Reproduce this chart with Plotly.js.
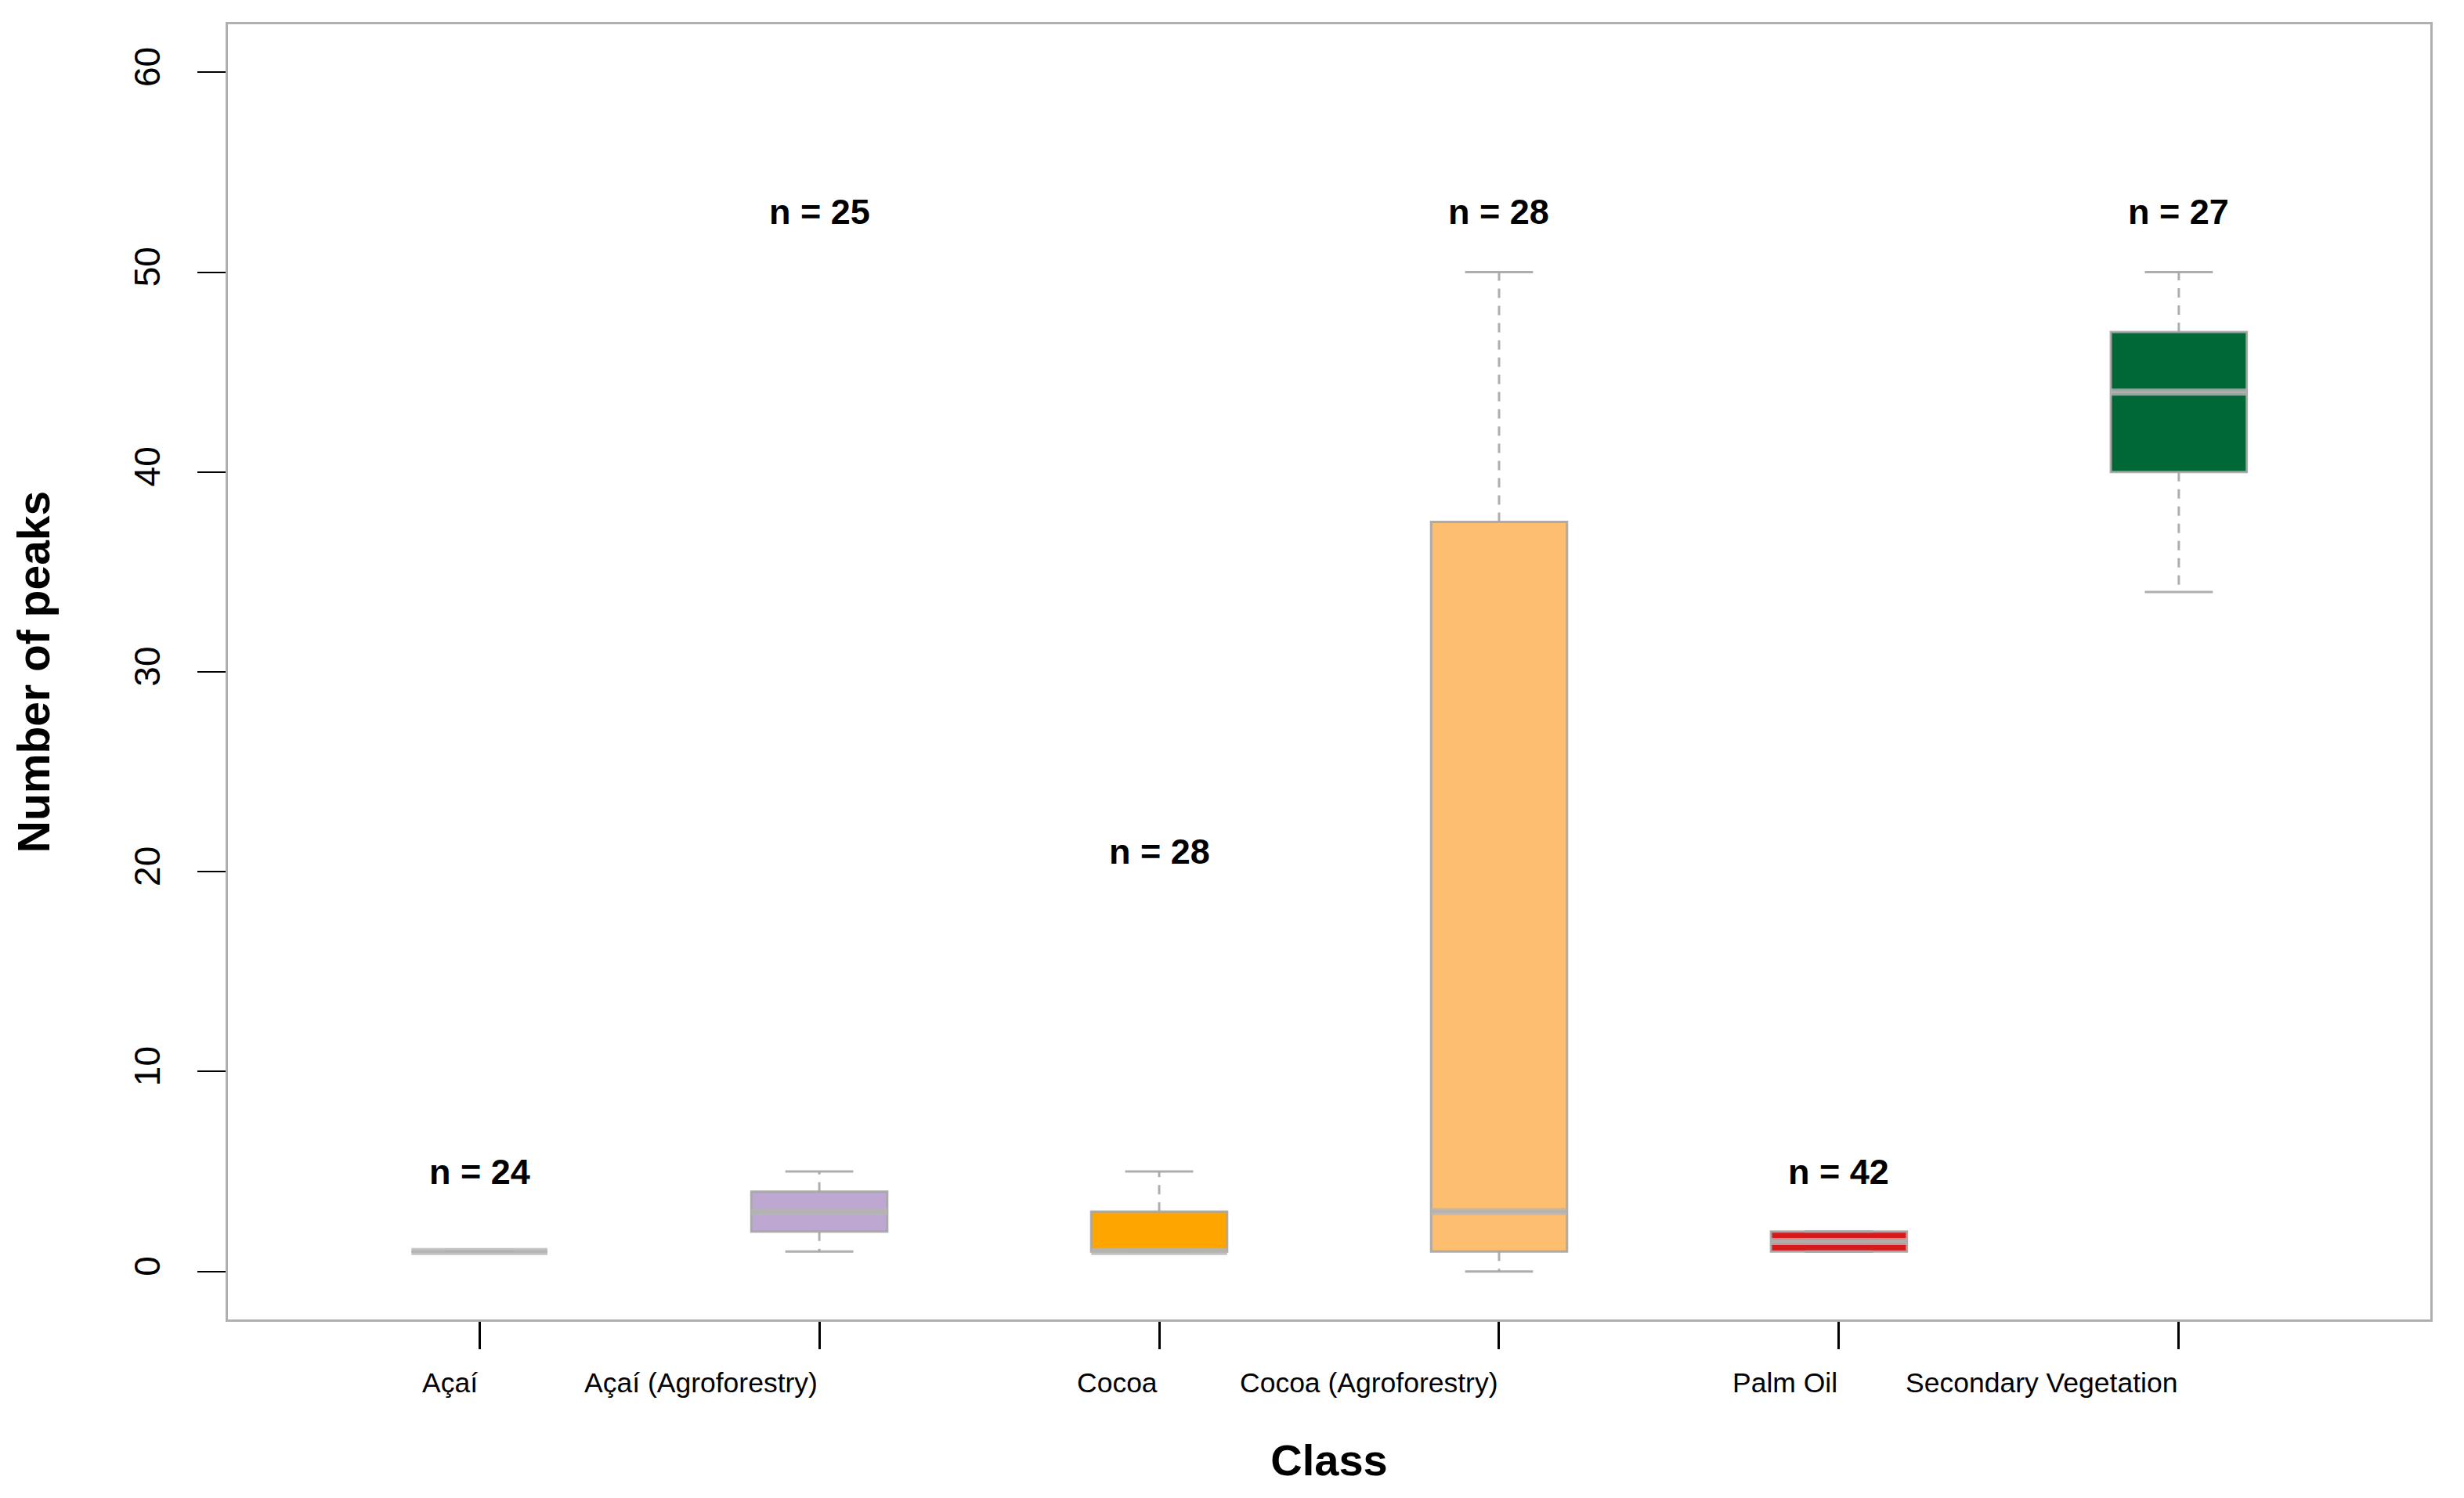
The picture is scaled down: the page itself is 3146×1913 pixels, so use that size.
<!DOCTYPE html>
<html>
<head>
<meta charset="utf-8">
<script src="https://cdn.plot.ly/plotly-3.0.1.min.js"></script>
<style>
  html, body { margin: 0; padding: 0; background: #ffffff; }
  #chart { width: 3146px; height: 1913px; }
</style>
</head>
<body>
<div id="chart"></div>
<script>
// ---- data ----
const categories = ["Açaí", "Açaí (Agroforestry)", "Cocoa", "Cocoa (Agroforestry)", "Palm Oil", "Secondary Vegetation"];
const lowerWhisker = [1, 1, 1, 0, 1, 34];
const q1Values     = [1, 2, 1, 1, 1, 40];
const medianValues = [1, 3, 1, 3, 1.5, 44];
const q3Values     = [1, 4, 3, 37.5, 2, 47];
const upperWhisker = [1, 5, 5, 50, 2, 50];
const nCounts      = [24, 25, 28, 28, 42, 27];
const nLabelY      = [5, 53, 21, 53, 5, 53];
const yTickValues  = [0, 10, 20, 30, 40, 50, 60];

// ---- styles ----
const fillColors = ["#BEBEBE", "#BEA8D2", "#FFA500", "#FDBF6F", "#D7191C", "#006837"];
const FONT = "Liberation Sans, Arial, Helvetica, sans-serif";
const grayLine = "rgba(165,165,165,0.9)";
const medianColor = "rgba(180,180,180,0.82)";
const boxWidth = 0.4;
const capHalf = 0.1;

const positions = categories.map((c, i) => i + 1);
const traces = [];

// box bodies
categories.forEach((cat, i) => {
  traces.push({
    type: "box",
    name: cat,
    x: [positions[i]],
    q1: [q1Values[i]],
    median: [medianValues[i]],
    q3: [q3Values[i]],
    lowerfence: [q1Values[i]],
    upperfence: [q3Values[i]],
    width: boxWidth,
    fillcolor: fillColors[i],
    line: { color: grayLine, width: 3 },
    boxpoints: false,
    whiskerwidth: 0,
    showlegend: false,
    hoverinfo: "skip"
  });
});

// dashed whiskers
const wx = [], wy = [];
categories.forEach((cat, i) => {
  wx.push(positions[i], positions[i], null, positions[i], positions[i], null);
  wy.push(q3Values[i], upperWhisker[i], null, q1Values[i], lowerWhisker[i], null);
});
traces.push({
  type: "scatter", mode: "lines", x: wx, y: wy,
  line: { color: grayLine, width: 3, dash: "12px,10px" },
  showlegend: false, hoverinfo: "skip"
});

// whisker caps
const cx = [], cy = [];
categories.forEach((cat, i) => {
  cx.push(positions[i] - capHalf, positions[i] + capHalf, null, positions[i] - capHalf, positions[i] + capHalf, null);
  cy.push(upperWhisker[i], upperWhisker[i], null, lowerWhisker[i], lowerWhisker[i], null);
});
traces.push({
  type: "scatter", mode: "lines", x: cx, y: cy,
  line: { color: grayLine, width: 3 },
  showlegend: false, hoverinfo: "skip"
});

// thick median lines
const mx = [], my = [];
categories.forEach((cat, i) => {
  mx.push(positions[i] - boxWidth / 2, positions[i] + boxWidth / 2, null);
  my.push(medianValues[i], medianValues[i], null);
});
traces.push({
  type: "scatter", mode: "lines", x: mx, y: my,
  line: { color: medianColor, width: 9 },
  showlegend: false, hoverinfo: "skip"
});

// annotations: n = labels and right-aligned category labels
const annotations = [];
categories.forEach((cat, i) => {
  annotations.push({
    x: positions[i], y: nLabelY[i], xref: "x", yref: "y",
    text: "<b>n = " + nCounts[i] + "</b>",
    showarrow: false, xanchor: "center", yanchor: "middle",
    font: { family: FONT, size: 45, color: "#000000" }
  });
  annotations.push({
    x: positions[i], y: 0, xref: "x", yref: "paper",
    text: cat, showarrow: false, xanchor: "right", yanchor: "middle",
    yshift: -81,
    font: { family: FONT, size: 35.5, color: "#000000" }
  });
});

const layout = {
  width: 3146, height: 1913,
  paper_bgcolor: "#ffffff", plot_bgcolor: "#ffffff",
  margin: { l: 291, r: 43, t: 31, b: 228, pad: 0 },
  showlegend: false,
  font: { family: FONT, color: "#000000" },
  xaxis: {
    range: [0.26, 6.74],
    tickmode: "array", tickvals: positions, ticktext: categories.map(() => ""),
    showticklabels: false,
    ticks: "outside", ticklen: 35, tickwidth: 3, tickcolor: "#000000",
    showline: true, linecolor: "#B0B0B0", linewidth: 3, mirror: true,
    showgrid: false, zeroline: false,
    title: { text: "<b>Class</b>", font: { family: FONT, size: 56, color: "#000000" }, standoff: 123 },
    automargin: false
  },
  yaxis: {
    range: [-2.4, 62.4],
    tickmode: "array", tickvals: yTickValues,
    tickangle: -90,
    tickfont: { family: FONT, size: 46, color: "#000000" },
    ticks: "outside", ticklen: 36, tickwidth: 2, tickcolor: "#000000",
    ticklabelstandoff: 30,
    showline: true, linecolor: "#B0B0B0", linewidth: 3, mirror: true,
    showgrid: false, zeroline: false,
    title: { text: "<b>Number of peaks</b>", font: { family: FONT, size: 57, color: "#000000" }, standoff: 80 },
    automargin: false
  },
  annotations: annotations
};

Plotly.newPlot("chart", traces, layout, { displayModeBar: false, staticPlot: true });
</script>
</body>
</html>
